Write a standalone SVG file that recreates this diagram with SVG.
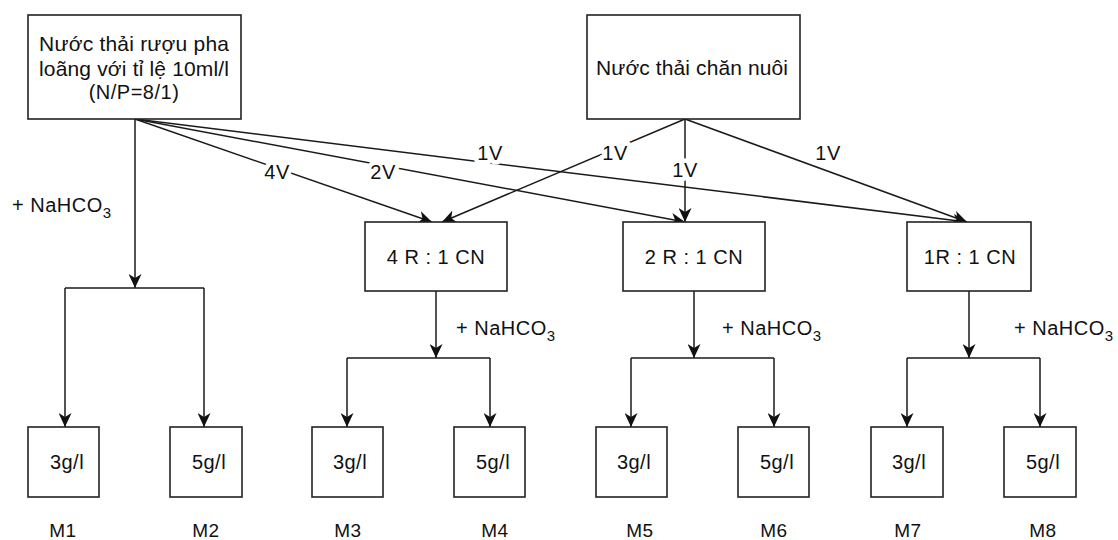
<svg xmlns="http://www.w3.org/2000/svg" width="1118" height="540" viewBox="0 0 1118 540">
<style>
.box{fill:#fff;stroke:#222;stroke-width:1.6}
.ln{fill:none;stroke:#1a1a1a;stroke-width:1.5}
.arr{marker-end:url(#ah)}
text{font-family:"Liberation Sans",Arial,sans-serif;font-size:20px;letter-spacing:0.5px;fill:#111}
.c{text-anchor:middle}
.big{font-size:21px;letter-spacing:0}
.lbl{text-anchor:middle;stroke:#fff;stroke-width:9;paint-order:stroke;stroke-linejoin:round}
.m{font-size:19px;text-anchor:middle}
</style>
<defs>
<marker id="ah" markerUnits="userSpaceOnUse" markerWidth="15" markerHeight="13" refX="14" refY="6.5" orient="auto">
<path d="M0,0 L14,6.5 L0,13 L4,6.5 z" fill="#111"/>
</marker>
</defs>
<rect width="1118" height="540" fill="#fff"/>
<g id="connectors">
<path class="ln arr" d="M135,119 L432,222"/>
<path class="ln arr" d="M135,119 L685,222"/>
<path class="ln arr" d="M135,119 L967,222"/>
<path class="ln arr" d="M685,119 L442,222"/>
<path class="ln arr" d="M685,119 L685,222"/>
<path class="ln arr" d="M685,119 L967,222"/>
<path class="ln arr" d="M135,119 L135,288"/>
<path class="ln" d="M65,288 L204,288"/>
<path class="ln arr" d="M65,288 L65,427"/>
<path class="ln arr" d="M204,288 L204,427"/>
<path class="ln arr" d="M436,291 L436,358"/>
<path class="ln" d="M347,358 L490,358"/>
<path class="ln arr" d="M347,358 L347,427"/>
<path class="ln arr" d="M490,358 L490,427"/>
<path class="ln arr" d="M694,291 L694,358"/>
<path class="ln" d="M631,358 L774,358"/>
<path class="ln arr" d="M631,358 L631,427"/>
<path class="ln arr" d="M774,358 L774,427"/>
<path class="ln arr" d="M969,291 L969,358"/>
<path class="ln" d="M907,358 L1040,358"/>
<path class="ln arr" d="M907,358 L907,427"/>
<path class="ln arr" d="M1040,358 L1040,427"/>
<text class="lbl" x="277" y="179">4V</text>
<text class="lbl" x="383" y="179">2V</text>
<text class="lbl" x="490" y="160">1V</text>
<text class="lbl" x="615" y="160">1V</text>
<text class="lbl" x="685" y="177">1V</text>
<text class="lbl" x="828" y="160">1V</text>
<text x="12" y="212">+ NaHCO<tspan font-size="15" dy="6">3</tspan></text>
<text x="456" y="335">+ NaHCO<tspan font-size="15" dy="6">3</tspan></text>
<text x="722" y="335">+ NaHCO<tspan font-size="15" dy="6">3</tspan></text>
<text x="1014" y="335">+ NaHCO<tspan font-size="15" dy="6">3</tspan></text>
</g>
<g id="nodeA">
<rect class="box" x="28" y="15" width="213" height="104"/>
<text class="c big" x="134" y="51" textLength="190" lengthAdjust="spacing">Nước thải rượu pha</text>
<text class="c big" x="134" y="76" textLength="190" lengthAdjust="spacing">loãng với tỉ lệ 10ml/l</text>
<text class="c" x="134" y="99">(N/P=8/1)</text>
</g>
<g id="nodeB">
<rect class="box" x="587" y="15" width="213" height="104"/>
<text class="c big" x="692" y="75" textLength="192" lengthAdjust="spacing">Nước thải chăn nuôi</text>
</g>
<g id="node4R">
<rect class="box" x="365" y="222" width="142" height="69"/>
<text class="c" x="436" y="264">4 R : 1 CN</text>
</g>
<g id="node2R">
<rect class="box" x="623" y="222" width="142" height="69"/>
<text class="c" x="694" y="264">2 R : 1 CN</text>
</g>
<g id="node1R">
<rect class="box" x="907" y="222" width="124" height="69"/>
<text class="c" x="970" y="264">1R : 1 CN</text>
</g>
<g id="M1"><rect class="box" x="28" y="427" width="71" height="70"/><text class="c" x="67" y="469">3g/l</text><text class="m" x="63" y="537">M1</text></g>
<g id="M2"><rect class="box" x="170" y="427" width="72" height="70"/><text class="c" x="209" y="469">5g/l</text><text class="m" x="206" y="537">M2</text></g>
<g id="M3"><rect class="box" x="312" y="427" width="71" height="70"/><text class="c" x="350" y="469">3g/l</text><text class="m" x="348" y="537">M3</text></g>
<g id="M4"><rect class="box" x="454" y="427" width="71" height="70"/><text class="c" x="493" y="469">5g/l</text><text class="m" x="495" y="537">M4</text></g>
<g id="M5"><rect class="box" x="596" y="427" width="71" height="70"/><text class="c" x="634" y="469">3g/l</text><text class="m" x="640" y="537">M5</text></g>
<g id="M6"><rect class="box" x="738" y="427" width="71" height="70"/><text class="c" x="777" y="469">5g/l</text><text class="m" x="774" y="537">M6</text></g>
<g id="M7"><rect class="box" x="871" y="427" width="72" height="70"/><text class="c" x="909" y="469">3g/l</text><text class="m" x="908" y="537">M7</text></g>
<g id="M8"><rect class="box" x="1004" y="427" width="72" height="70"/><text class="c" x="1043" y="469">5g/l</text><text class="m" x="1043" y="537">M8</text></g>
</svg>
